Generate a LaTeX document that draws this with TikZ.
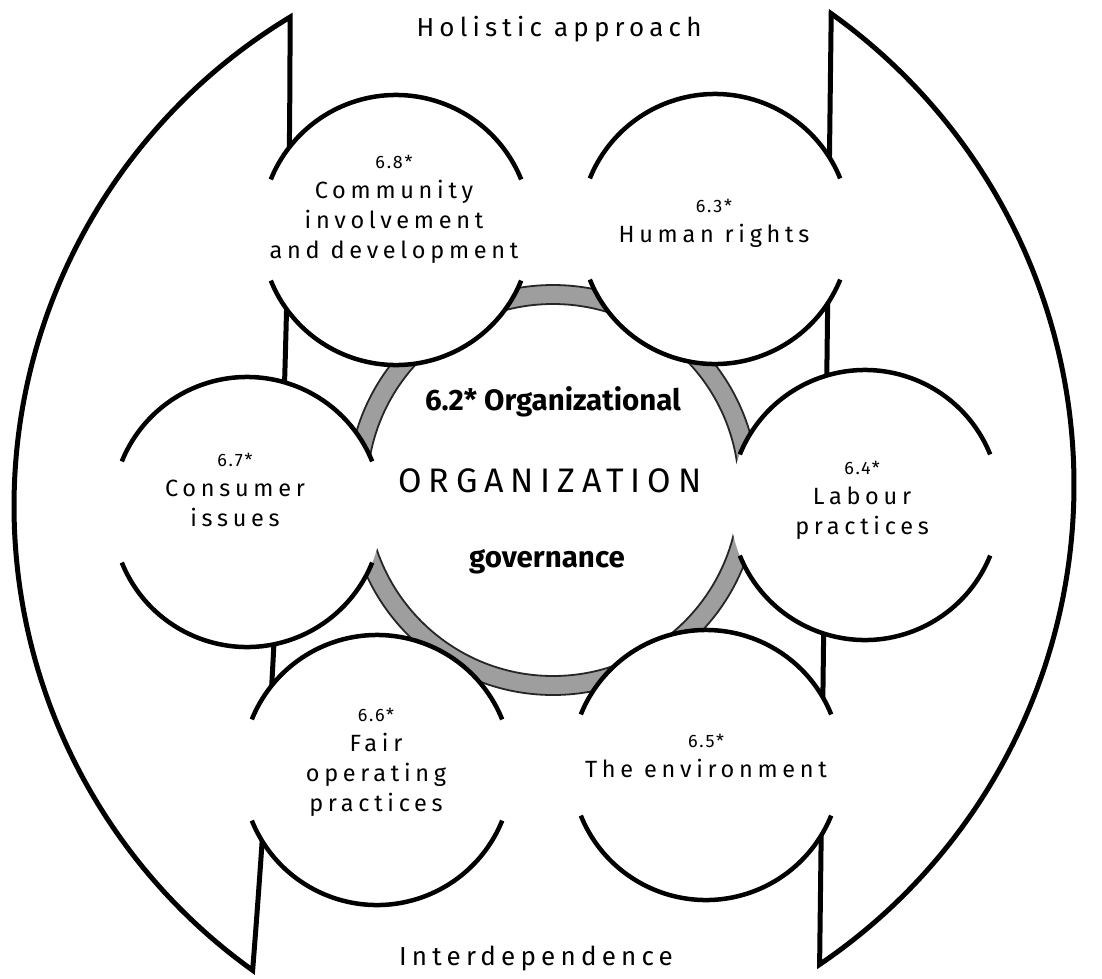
\documentclass[tikz,border=0pt]{standalone}
\usepackage{fontspec}
\setmainfont{Fira Sans}
\newfontfamily\spaced{Fira Sans}[LetterSpace=20]
\newfontfamily\numfont{Fira Sans}[LetterSpace=10]
\newcommand\numsize{\numfont\fontsize{18}{20}\selectfont}
\usetikzlibrary{calc}

\begin{document}
\begin{tikzpicture}[x=1pt, y=1pt,
    arrowline/.style={draw, line width=5pt, line join=miter},
    ring/.style={fill=black!38, draw=black!85, line width=1.8pt, even odd rule},
    topicarc/.style={draw, line width=4.5pt},
    topic/.style={align=center, font=\spaced\fontsize{23.5}{30}\selectfont},
    title/.style={anchor=base, font=\spaced\fontsize{26}{28}\selectfont},
    gov/.style={anchor=base, font=\bfseries\fontsize{29.5}{32}\selectfont}]
  \useasboundingbox (0,0) rectangle (1102,-978);

  % centres
  \coordinate (org) at (553,-490);
  \coordinate (cd) at (396,-230);
  \coordinate (hr) at (715,-229);
  \coordinate (ci) at (247,-512);
  \coordinate (lp) at (865,-505);
  \coordinate (fo) at (377,-770);
  \coordinate (en) at (706,-765);
  \coordinate (lc) at (585,-506);
  \coordinate (rc) at (495,-485);
  \coordinate (lt) at ($(lc)+(121.1:571)$);
  \coordinate (rt) at ($(rc)+(54.5:579)$);

  % the two big arrows
  \draw[arrowline] (lt) arc[start angle=121.1, end angle=234.4, radius=571]
    .. controls (278,-650) and (290,-330) .. cycle;
  \draw[arrowline] (rt) arc[start angle=54.5, end angle=-55.9, radius=579] -- cycle;

  % governance ring
  \path[ring] (org) circle[radius=205] (org) circle[radius=186];

  % core subjects
  \foreach \c in {cd, hr, ci, lp, fo, en} {
    \fill[white] (\c) circle[radius=135];
    \draw[topicarc] (\c) ++(22:135) arc[start angle=22, end angle=158, radius=135]
                    (\c) ++(202:135) arc[start angle=202, end angle=338, radius=135];
  }

  \node[topic] (cdtext) at (394,-209) {{\numsize 6.8*}\\Community\\involvement\\and development};
  \node[topic] (hrtext) at (714,-223) {{\numsize 6.3*}\\Human rights};
  \node[topic] (citext) at (235,-490) {{\numsize 6.7*}\\Consumer\\issues};
  \node[topic] (lptext) at (862,-500) {{\numsize 6.4*}\\Labour\\practices};
  \node[topic] (fotext) at (376,-762) {{\numsize 6.6*}\\Fair\\operating\\practices};
  \node[topic] (entext) at (706,-756) {{\numsize 6.5*}\\The environment};

  \node[gov] (govtop) at (553,-410) {6.2* Organizational};
  \node[anchor=base, font=\spaced\fontsize{34}{36}\selectfont] (orgname) at (550,-492) {ORGANIZATION};
  \node[gov] (govbot) at (547,-567) {governance};

  \node[title] (holistic) at (559,-36) {Holistic approach};
  \node[title] (interdep) at (536,-965) {Interdependence};
\end{tikzpicture}
\end{document}
